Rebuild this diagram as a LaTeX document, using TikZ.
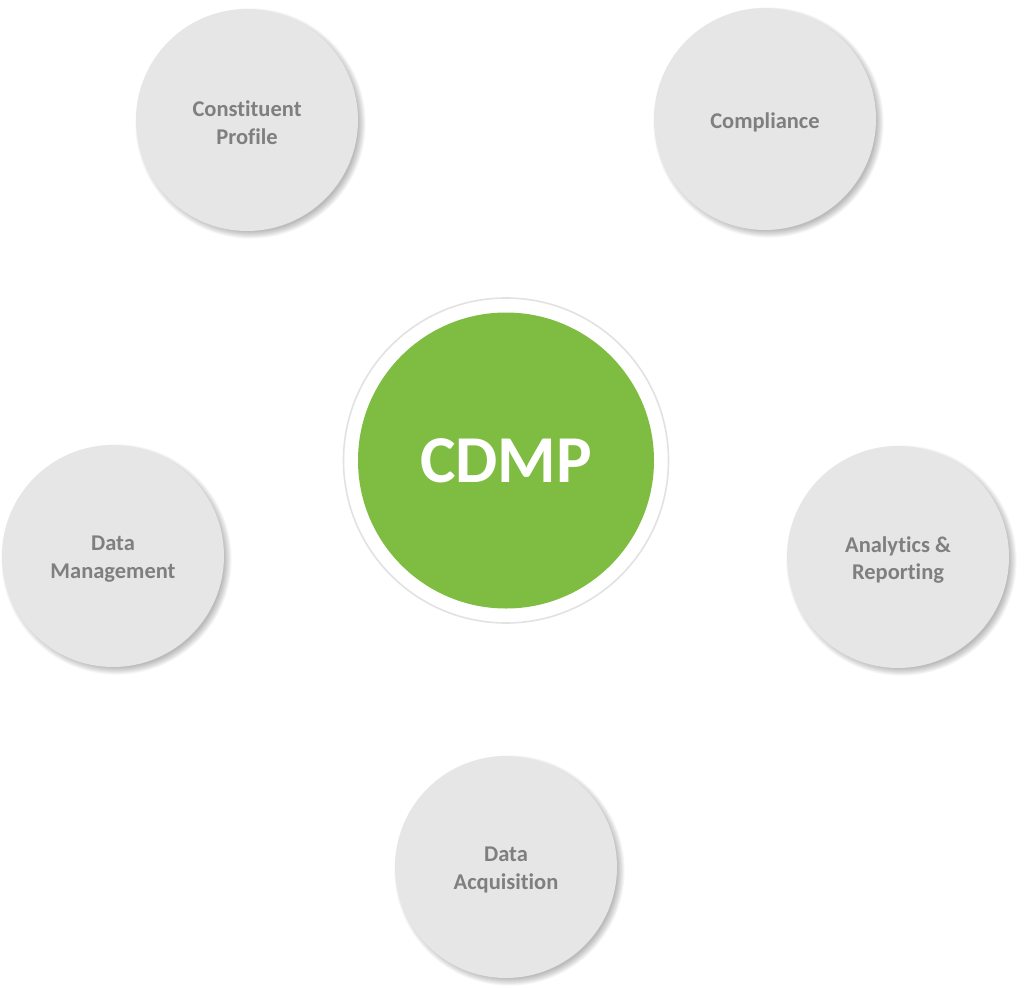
\documentclass[tikz,border=0pt]{standalone}
\usepackage{fontspec}
\setmainfont{Carlito}[RawFeature={-liga}]
\definecolor{bubblegray}{HTML}{E6E6E6}
\definecolor{labelgray}{HTML}{7F7F7F}
\definecolor{cdmpgreen}{HTML}{7FBD42}
\definecolor{ringgray}{HTML}{E2E2E2}
\tikzset{
  bubble/.style={circle, fill=bubblegray, minimum size=222pt, inner sep=0pt},
  bubbletext/.style={align=center, text=labelgray, inner sep=0pt,
    font=\fontsize{22.5}{27.5}\selectfont\bfseries},
  ringbox/.style={circle, fill=white, draw=ringgray, line width=1.6pt, minimum size=325pt, inner sep=0pt},
  corebox/.style={circle, fill=cdmpgreen, minimum size=296pt, inner sep=0pt,
    text=white, font=\fontsize{67}{70}\selectfont\bfseries},
}
\newcommand{\softshadow}[2]{%
  \foreach \k in {0,...,8}{
    \fill[black, opacity=0.03] (#1) ++(3.5,3.5) circle ({#2-3+\k*0.9});
  }%
}
\begin{document}
\begin{tikzpicture}[x=1pt,y=-1pt]
\useasboundingbox (0,0) rectangle (1024,987);
\fill[white] (0,0) rectangle (1024,987);
% centres
\coordinate (pc) at (247,120);
\coordinate (cc) at (765,119);
\coordinate (dm) at (113,556);
\coordinate (ar) at (898,557);
\coordinate (da) at (506,867);
\coordinate (core) at (506,460.5);
% shadows
\softshadow{pc}{111}
\softshadow{cc}{111}
\softshadow{dm}{111}
\softshadow{ar}{111}
\softshadow{da}{111}
% bubbles
\node[bubble] (profile) at (pc) {};
\node[bubble] (compliance) at (cc) {};
\node[bubble] (datamgmt) at (dm) {};
\node[bubble] (analytics) at (ar) {};
\node[bubble] (acquisition) at (da) {};
\node[bubbletext] (profilelabel) at ([yshift=-2.5pt]profile.center) {Constituent\\Profile};
\node[bubbletext] (compliancelabel) at ([yshift=-3pt]compliance.center) {Compliance};
\node[bubbletext] (datamgmtlabel) at ([yshift=-3pt]datamgmt.center) {Data\\Management};
\node[bubbletext] (analyticslabel) at ([yshift=-3pt]analytics.center) {Analytics \&\\Reporting};
\node[bubbletext] (acquisitionlabel) at ([yshift=-3pt]acquisition.center) {Data\\Acquisition};
% centre
\node[ringbox] (ring) at (core) {};
\node[corebox] (cdmp) at (core) {CDMP};
\end{tikzpicture}
\end{document}
